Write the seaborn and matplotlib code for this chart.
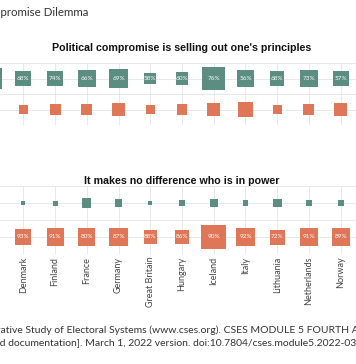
import pandas as pd
import matplotlib
matplotlib.use('Agg')
import matplotlib.pyplot as plt
import seaborn as sns

# data
countries = ['Czechia', 'Denmark', 'Finland', 'France', 'Germany', 'Great Britain',
             'Hungary', 'Iceland', 'Italy', 'Lithuania', 'Netherlands', 'Norway']

# panel 1 : Political compromise is selling out one's principles
# (first column is cut off in the picture, its label can't be read)
pct_agree_1 = [None, 68, 74, 66, 69, 58, 60, 76, 56, 68, 73, 57]
n_agree_1 = [1760, 1020, 1020, 1250, 1340, 550, 600, 2170, 1110, 820, 1250, 1020]
n_disagree_1 = [580, 350, 480, 510, 600, 320, 420, 710, 820, 350, 480, 710]

# panel 2 : It makes no difference who is in power
pct_disagree_2 = [None, 93, 91, 80, 87, 88, 86, 90, 92, 72, 91, 89]
n_agree_2 = [140, 75, 100, 350, 210, 75, 130, 280, 130, 300, 145, 160]
n_disagree_2 = [1020, 1020, 1160, 1160, 1440, 680, 780, 2440, 1440, 900, 1300, 1250]

responses = ['Agree', 'Disagree']
pal = {'Agree': '#5b8d80', 'Disagree': '#e07658'}

# first country name falls outside the crop
tick_labels = [''] + countries[1:]

title = ('Com', 'promise Dilemma')
panel_titles = ["Political compromise is selling out one's principles",
                'It makes no difference who is in power']
caption_1 = ('Source: The Compar', 'ative Study of Electoral Systems (www.cses.org). '
             'CSES MODULE 5 FOURTH ADVANCE RELEASE')
caption_2 = ('[dataset an', 'd documentation]. March 1, 2022 version. '
             'doi:10.7804/cses.module5.2022-03-01')


def make_df(n_a, n_d):
    a = pd.DataFrame({'country': countries, 'response': 'Agree', 'n': n_a})
    d = pd.DataFrame({'country': countries, 'response': 'Disagree', 'n': n_d})
    return pd.concat([a, d], ignore_index=True)


df1 = make_df(n_agree_1, n_disagree_1)
df2 = make_df(n_agree_2, n_disagree_2)

sns.set_style('white')
plt.rcParams['font.family'] = ['Lato', 'DejaVu Sans']

W, H = 356, 364
fig = plt.figure(figsize=(W / 100, H / 100), dpi=100)

# axes run past the left/right edge: the picture is a crop of a wider chart
step = 31.74
x_first = 23.3 - step          # pixel of Czechia
xlim = (-0.6, len(countries) - 0.4)
left_px = x_first + xlim[0] * step
width_px = (xlim[1] - xlim[0]) * step

nmax = 2500
k = 0.72 ** 2 / 4              # points^2 per respondent

panels = [
    (df1, 63, 125, pct_agree_1, 'Agree'),
    (df2, 186, 254, pct_disagree_2, 'Disagree'),
]
for j, (df, top, bot, pcts, lab_row) in enumerate(panels):
    ax = fig.add_axes([left_px / W, (H - bot) / H, width_px / W, (bot - top) / H])
    sns.scatterplot(data=df, x='country', y='response', hue='response', palette=pal,
                    size='n', sizes=(0, nmax * k), size_norm=(0, nmax),
                    marker='s', linewidth=0, legend=False, ax=ax, zorder=3)
    ax.set_xlim(*xlim)
    ax.set_ylim(1.5, -0.5)
    ax.set_xticks(range(len(countries)))
    ax.set_yticks([0, 1])
    ax.set_yticks([-0.5, 0.5, 1.5], minor=True)
    ax.grid(True, which='both', color='#e4e4e4', lw=0.6)
    ax.set_axisbelow(True)
    for s in ax.spines.values():
        s.set_visible(False)
    ax.tick_params(length=0, labelsize=6.5, colors='#444444', pad=2)
    ax.set_yticklabels([])    # response labels sit left of the crop
    ax.set_xlabel('')
    ax.set_ylabel('')
    if j == 0:
        ax.set_xticklabels([])
    else:
        ax.set_xticklabels(tick_labels, rotation=90)
    yrow = responses.index(lab_row)
    for i, p in enumerate(pcts):
        if p is None:
            continue
        ax.text(i, yrow, f'{p}%', ha='center', va='center', color='white',
                fontsize=4.6, zorder=4)

fig.canvas.draw()
r = fig.canvas.get_renderer()

tfont = dict(fontweight='bold', family=['Liberation Sans', 'DejaVu Sans'])
fig.text(181.5 / W, 1 - 48 / H, panel_titles[0], ha='center', va='center',
         fontsize=7.7, color='#111111', **tfont)
fig.text(181.5 / W, 1 - 181 / H, panel_titles[1], ha='center', va='center',
         fontsize=7.7, color='#111111', **tfont)


def cut_text(y_px, hidden, shown, **kw):
    t = fig.text(0, 1 - y_px / H, hidden, va='center', ha='left', **kw)
    w = t.get_window_extent(r).width
    t.remove()
    fig.text(-w / W, 1 - y_px / H, hidden + shown, va='center', ha='left', **kw)


cut_text(12, title[0], title[1], fontsize=8.3, color='#333333')
cut_text(330, caption_1[0], caption_1[1], fontsize=7.5, color='#333333')
cut_text(343, caption_2[0], caption_2[1], fontsize=7.5, color='#333333')

fig.savefig('out.png', dpi=100)
